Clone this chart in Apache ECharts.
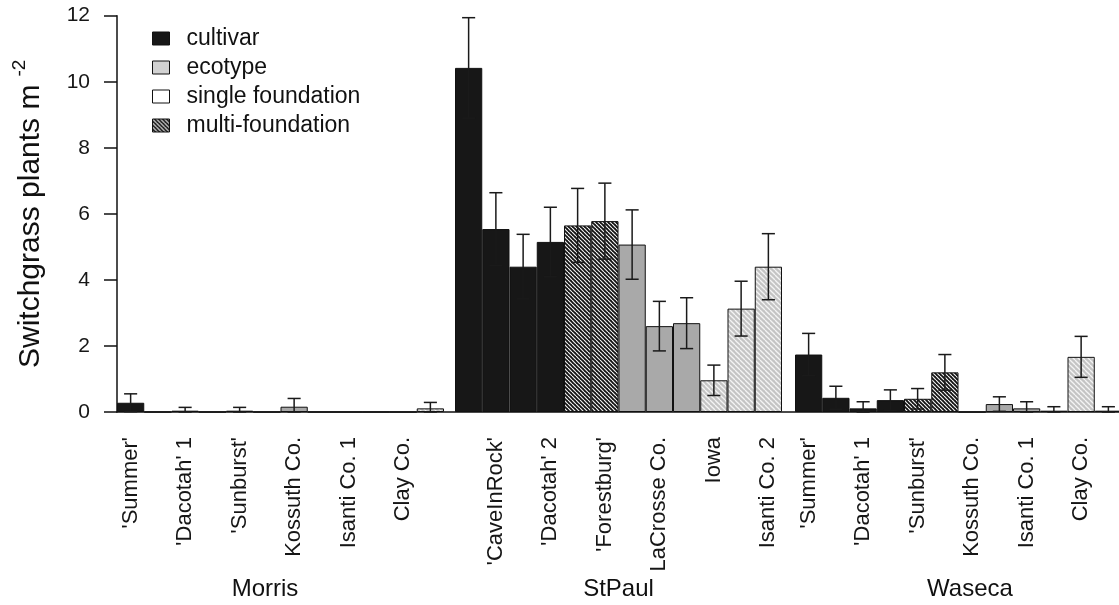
<!DOCTYPE html>
<html><head><meta charset="utf-8">
<script src="https://cdn.jsdelivr.net/npm/echarts@6/dist/echarts.min.js"></script>
<style>html,body{margin:0;padding:0;background:#fff}#c{width:1119px;height:605px}</style>
</head><body><div id="c"></div>
<script>
// ---- data ----
const categories = ["'Summer'", "'CaveInRock'", "'Dacotah' 1", "'Dacotah' 2", "'Sunburst'", "'Forestburg'",
  "Kossuth Co.", "LaCrosse Co.", "Isanti Co. 1", "Iowa", "Clay Co.", "Isanti Co. 2"];
const types = ['cultivar','cultivar','cultivar','cultivar','multi-foundation','multi-foundation',
  'ecotype','ecotype','ecotype','single foundation','single foundation','single foundation'];
const sites = ['Morris', 'StPaul', 'Waseca'];
const morrisMean = [0.28, 0, 0.04, 0, 0.04, 0, 0.16, 0, 0, 0, 0, 0.11];
const morrisErr  = [0.27, 0, 0.10, 0, 0.10, 0, 0.25, 0, 0, 0, 0, 0.18];
const stpaulMean = [10.42, 5.54, 4.40, 5.15, 5.65, 5.78, 5.07, 2.60, 2.69, 0.96, 3.13, 4.40];
const stpaulErr  = [1.52, 1.10, 0.98, 1.05, 1.12, 1.15, 1.05, 0.75, 0.77, 0.46, 0.83, 1.00];
const wasecaMean = [1.74, 0.43, 0.11, 0.36, 0.40, 1.20, 0, 0.24, 0.11, 0.04, 1.67, 0.04];
const wasecaErr  = [0.64, 0.35, 0.20, 0.31, 0.31, 0.54, 0, 0.22, 0.20, 0.12, 0.62, 0.12];
const legendNames = ['cultivar', 'ecotype', 'single foundation', 'multi-foundation'];
const yTicks = [0, 2, 4, 6, 8, 10, 12];

const means = [morrisMean, stpaulMean, wasecaMean];
const errs = [morrisErr, stpaulErr, wasecaErr];

function hatch(bg, fg, lw, size) {
  const c = document.createElement('canvas');
  c.width = size; c.height = size;
  const ctx = c.getContext('2d');
  ctx.fillStyle = bg; ctx.fillRect(0, 0, size, size);
  ctx.strokeStyle = fg; ctx.lineWidth = lw;
  for (let k = -size; k <= size; k += size) {
    ctx.beginPath(); ctx.moveTo(k, 0); ctx.lineTo(k + size, size); ctx.stroke();
  }
  return c;
}
const darkHatch = {image: hatch('#121212', '#f0f0f0', 1.2, 4), repeat: 'repeat'};
const lightHatch = {image: hatch('#c4c4c4', '#f4f4f4', 1.3, 5), repeat: 'repeat'};
const typeColor = {
  'cultivar': '#171717',
  'ecotype': '#a9a9a9',
  'single foundation': lightHatch,
  'multi-foundation': darkHatch
};

const FONT = 'Liberation Sans, Arial, sans-serif';
const gridTop = 15.7, gridH = 396.3;
const gridLefts = [117, 455, 795];
const groupW = 327;

const grids = [], xAxes = [], yAxes = [], series = [];
const nameShift = [[0, 31, 0, 0], [0, 0, 0, 0], [0, 0, 0, 23]];
for (let g = 0; g < 3; g++) {
  grids.push({left: gridLefts[g], top: gridTop, width: groupW, height: gridH,
    containLabel: false, outerBoundsMode: 'none'});
  xAxes.push({
    type: 'category', gridIndex: g, data: categories,
    axisLine: {show: false}, axisTick: {show: false},
    axisLabel: {
      rotate: 90, fontSize: 22, color: '#161616', fontFamily: FONT, margin: 25,
      interval: (i) => (g === 1 ? i % 2 === 1 : i % 2 === 0)
    },
    name: sites[g], nameLocation: 'middle', nameGap: 165, nameMoveOverlap: false,
    nameTextStyle: {fontSize: 24, color: '#111', fontFamily: FONT, padding: nameShift[g]}
  });
  yAxes.push({
    type: 'value', gridIndex: g, min: 0, max: 12, interval: 2, show: g === 0,
    splitLine: {show: false},
    axisLine: {show: true, lineStyle: {color: '#111', width: 1.5}},
    axisTick: {show: true, length: 13, lineStyle: {color: '#111', width: 1.5}},
    axisLabel: {fontSize: 21, color: '#161616', fontFamily: FONT, margin: 27,
      formatter: (v) => yTicks.includes(v) ? String(v) : ''},
    name: g === 0 ? '{a|Switchgrass plants m}{b|-2}' : '',
    nameLocation: 'middle', nameRotate: 90, nameGap: 66, nameMoveOverlap: false,
    nameTextStyle: {
      rich: {
        a: {fontSize: 30, color: '#111', fontFamily: FONT},
        b: {fontSize: 19, color: '#111', fontFamily: FONT, padding: [0, 0, 22, 8]}
      }
    }
  });
  legendNames.forEach((t) => {
    series.push({
      type: 'bar', name: t, xAxisIndex: g, yAxisIndex: g,
      barGap: '-100%', barCategoryGap: '0%',
      itemStyle: {color: typeColor[t], borderColor: '#111', borderWidth: 1},
      emphasis: {disabled: true},
      data: means[g].map((v, i) => types[i] === t ? v : null),
      z: 2
    });
  });
  series.push({
    type: 'custom', xAxisIndex: g, yAxisIndex: g, z: 5, silent: true,
    data: means[g].map((v, i) => [i, v, errs[g][i]]),
    renderItem: function (params, api) {
      const i = api.value(0), v = api.value(1), e = api.value(2);
      if (!(e > 0)) return null;
      const top = api.coord([i, v + e]);
      const bot = api.coord([i, Math.max(0, v - e)]);
      const hw = api.size([1, 0])[0] * 0.24;
      const st = {stroke: '#1a1a1a', lineWidth: 1.5};
      return {type: 'group', children: [
        {type: 'line', shape: {x1: top[0], y1: top[1], x2: bot[0], y2: bot[1]}, style: st},
        {type: 'line', shape: {x1: top[0] - hw, y1: top[1], x2: top[0] + hw, y2: top[1]}, style: st},
        {type: 'line', shape: {x1: bot[0] - hw, y1: bot[1], x2: bot[0] + hw, y2: bot[1]}, style: st}
      ]};
    }
  });
}
// continuous x-axis baseline
grids.push({left: 117, top: gridTop, width: 1005, height: gridH, containLabel: false, outerBoundsMode: 'none'});
xAxes.push({type: 'value', gridIndex: 3, min: 0, max: 1,
  axisLine: {show: true, onZero: false, lineStyle: {color: '#111', width: 1.5}},
  axisTick: {show: false}, axisLabel: {show: false}, splitLine: {show: false}});
yAxes.push({type: 'value', gridIndex: 3, min: 0, max: 12, show: false});

const chart = echarts.init(document.getElementById('c'), null, {renderer: 'canvas'});
chart.setOption({
  animation: false,
  backgroundColor: '#fff',
  textStyle: {fontFamily: FONT},
  grid: grids, xAxis: xAxes, yAxis: yAxes,
  legend: {
    orient: 'vertical', left: 147, top: 22, itemWidth: 17, itemHeight: 13, itemGap: 6,
    icon: 'rect', selectedMode: false,
    textStyle: {fontSize: 23, color: '#111', fontFamily: FONT, padding: [0, 0, 0, 12]},
    data: [
      {name: 'cultivar', itemStyle: {color: '#171717', borderColor: '#111', borderWidth: 1}},
      {name: 'ecotype', itemStyle: {color: '#d2d2d2', borderColor: '#111', borderWidth: 1}},
      {name: 'single foundation', itemStyle: {color: '#ffffff', borderColor: '#111', borderWidth: 1}},
      {name: 'multi-foundation', itemStyle: {color: darkHatch, borderColor: '#111', borderWidth: 1}}
    ]
  },
  series: series
});
</script></body></html>
